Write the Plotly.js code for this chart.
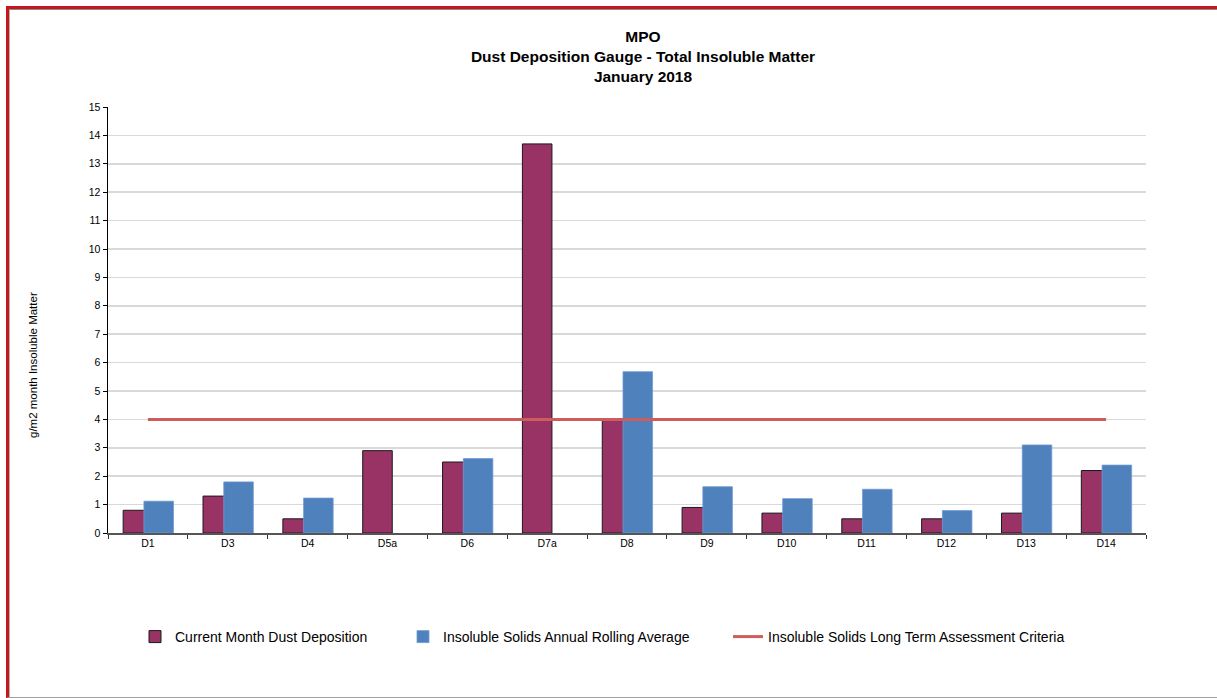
<!DOCTYPE html>
<html>
<head>
<meta charset="utf-8">
<script src="https://cdn.plot.ly/plotly-3.0.1.min.js"></script>
<style>
  html, body { margin: 0; padding: 0; background: #fff; }
  #wrap { position: relative; width: 1217px; height: 698px; overflow: hidden; }
  #chart { position: absolute; left: 0; top: 0; width: 1217px; height: 698px; }
  #frame { position: absolute; left: 6px; top: 6px; width: 1300px; height: 692px;
           border-top: 3px solid #C8161D; border-left: 3px solid #C8161D;
           border-bottom: 1px solid #A0A0A0; pointer-events: none; box-sizing: border-box; }
  #frame:after { content: ""; position: absolute; left: 0; top: 0; right: 0; bottom: 0;
           border-top: 1px solid #8a8a8a; border-left: 1px solid #b0b0b0; }
</style>
</head>
<body>
<div id="wrap">
  <div id="chart"></div>
  <div id="frame"></div>
</div>
<script>
const categories = ["D1", "D3", "D4", "D5a", "D6", "D7a", "D8", "D9", "D10", "D11", "D12", "D13", "D14"];
const currentMonth = [0.8, 1.3, 0.5, 2.9, 2.5, 13.7, 4.0, 0.9, 0.7, 0.5, 0.5, 0.7, 2.2];
const rollingAverage = [1.12, 1.8, 1.23, null, 2.62, null, 5.68, 1.63, 1.21, 1.54, 0.79, 3.1, 2.39];
const criteria = [4, 4, 4, 4, 4, 4, 4, 4, 4, 4, 4, 4, 4];
const yTicks = [0,1,2,3,4,5,6,7,8,9,10,11,12,13,14,15];

const FONT = "Liberation Sans, Arial, sans-serif";
const PW = 1217 - 108 - 71;
const PH = 533 - 107;

const traces = [
  {
    type: "bar", name: "Current Month Dust Deposition",
    x: categories, y: currentMonth,
    width: 0.37, offset: -0.31,
    marker: { color: "#993366", line: { color: "#1a1a1a", width: 1 } },
    legend: "legend",
    hoverinfo: "x+y"
  },
  {
    type: "bar", name: "Insoluble Solids Annual Rolling Average",
    x: categories, y: rollingAverage,
    width: 0.37, offset: -0.05,
    marker: { color: "#4F81BD", line: { color: "#6f9ad0", width: 0.8 } },
    legend: "legend2",
    hoverinfo: "x+y"
  },
  {
    type: "scatter", mode: "lines", name: "Insoluble Solids Long Term Assessment Criteria",
    x: categories, y: criteria,
    line: { color: "#CD5C5C", width: 3 },
    legend: "legend3",
    hoverinfo: "x+y"
  }
];

function legendAt(px) {
  return {
    orientation: "h",
    xref: "container", yref: "container",
    x: px / 1217, y: 1 - 621 / 698, xanchor: "left", yanchor: "top",
    font: { family: FONT, size: 14, color: "#000000" },
    itemwidth: 30,
    bgcolor: "rgba(0,0,0,0)"
  };
}

const layout = {
  width: 1217, height: 698,
  paper_bgcolor: "#ffffff", plot_bgcolor: "#ffffff",
  font: { family: FONT, color: "#000000", size: 10 },
  barmode: "overlay",
  margin: { l: 108, r: 71, t: 107, b: 165 },
  title: {
    text: "<b>MPO</b><br><b>Dust Deposition Gauge - Total Insoluble Matter</b><br><b>January 2018</b>",
    font: { family: FONT, size: 15.5, color: "#000000" },
    x: (643 - 108) / PW, xanchor: "center", xref: "paper",
    y: 1 - 42 / 698, yanchor: "top", yref: "container"
  },
  xaxis: {
    type: "category",
    showline: true, linecolor: "#555555", linewidth: 1.5,
    ticks: "outside", tickson: "boundaries", ticklen: 4, tickcolor: "#333333",
    showgrid: false,
    tickfont: { family: FONT, size: 10.5, color: "#000000" },
    range: [-0.5, 12.5]
  },
  yaxis: {
    range: [0, 15], tickvals: yTicks, ticktext: yTicks.map(String),
    showline: true, linecolor: "#000000", linewidth: 1.5,
    ticks: "outside", ticklen: 4, tickcolor: "#000000",
    showgrid: true, gridcolor: "#D9D9D9", gridwidth: 1.5,
    zeroline: false,
    tickfont: { family: FONT, size: 10.5, color: "#000000" }
  },
  showlegend: true,
  legend: legendAt(135),
  legend2: legendAt(403),
  legend3: legendAt(728),
  annotations: [
    {
      text: "g/m2 month Insoluble Matter",
      xref: "paper", yref: "paper",
      x: (33 - 108) / PW, y: (533 - 365) / PH,
      xanchor: "center", yanchor: "middle",
      textangle: -90, showarrow: false,
      font: { family: FONT, size: 11.5, color: "#000000" }
    }
  ]
};

Plotly.newPlot("chart", traces, layout, { displayModeBar: false, staticPlot: true });
</script>
</body>
</html>
